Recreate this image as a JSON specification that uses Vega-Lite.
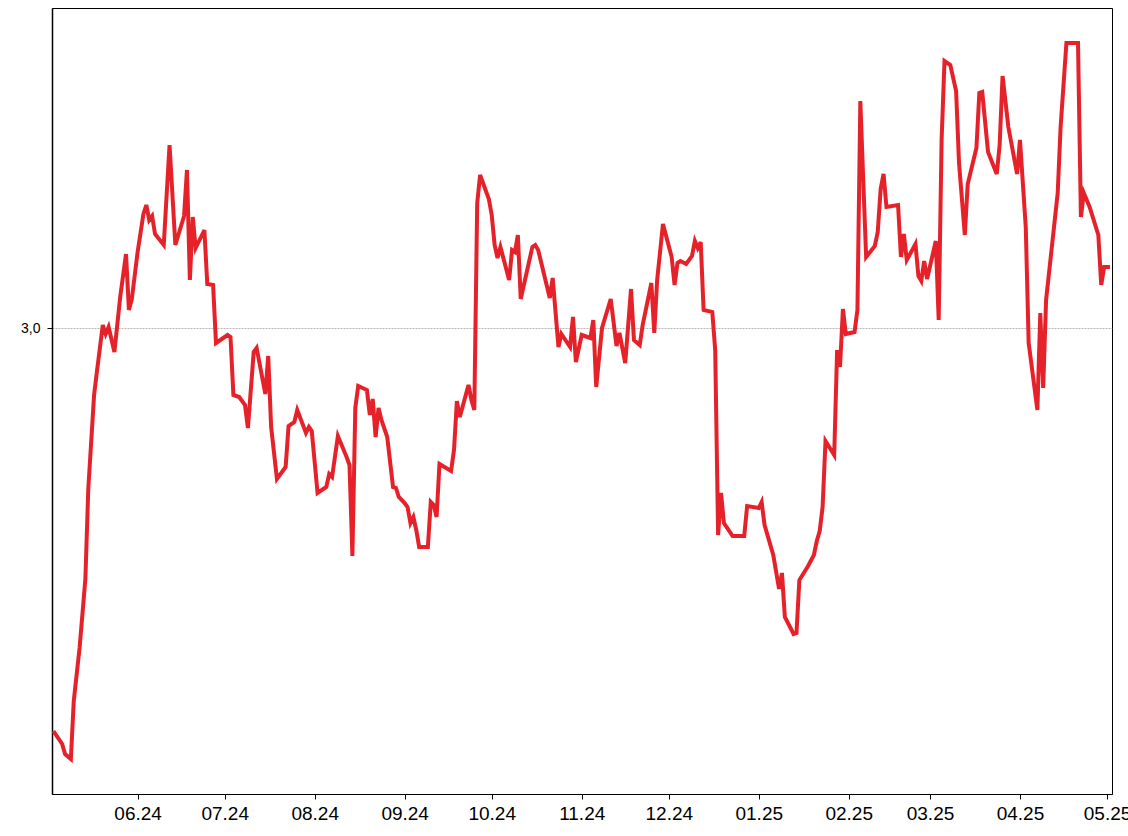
{
  "$schema": "https://vega.github.io/schema/vega-lite/v6.json",
  "width": 1060,
  "height": 786,
  "autosize": "none",
  "padding": {"left": 52, "top": 8, "right": 16, "bottom": 42},
  "background": "white",
  "config": {"view": {"stroke": "black", "strokeWidth": 1}, "font": "Liberation Sans"},
  "data": {"values": [
    {"date": "2024-05-03", "value": 2.597},
    {"date": "2024-05-06", "value": 2.584},
    {"date": "2024-05-07", "value": 2.574},
    {"date": "2024-05-09", "value": 2.569},
    {"date": "2024-05-10", "value": 2.627},
    {"date": "2024-05-12", "value": 2.680},
    {"date": "2024-05-14", "value": 2.749},
    {"date": "2024-05-15", "value": 2.839},
    {"date": "2024-05-17", "value": 2.933},
    {"date": "2024-05-18", "value": 2.957},
    {"date": "2024-05-20", "value": 3.003},
    {"date": "2024-05-21", "value": 2.994},
    {"date": "2024-05-22", "value": 3.001},
    {"date": "2024-05-24", "value": 2.976},
    {"date": "2024-05-26", "value": 3.031},
    {"date": "2024-05-28", "value": 3.074},
    {"date": "2024-05-29", "value": 3.018},
    {"date": "2024-05-30", "value": 3.029},
    {"date": "2024-06-01", "value": 3.076},
    {"date": "2024-06-03", "value": 3.114},
    {"date": "2024-06-04", "value": 3.123},
    {"date": "2024-06-05", "value": 3.108},
    {"date": "2024-06-06", "value": 3.112},
    {"date": "2024-06-07", "value": 3.094},
    {"date": "2024-06-10", "value": 3.083},
    {"date": "2024-06-12", "value": 3.183},
    {"date": "2024-06-14", "value": 3.083},
    {"date": "2024-06-17", "value": 3.112},
    {"date": "2024-06-18", "value": 3.158},
    {"date": "2024-06-19", "value": 3.048},
    {"date": "2024-06-20", "value": 3.111},
    {"date": "2024-06-21", "value": 3.080},
    {"date": "2024-06-24", "value": 3.098},
    {"date": "2024-06-25", "value": 3.044},
    {"date": "2024-06-27", "value": 3.043},
    {"date": "2024-06-28", "value": 2.985},
    {"date": "2024-07-02", "value": 2.993},
    {"date": "2024-07-03", "value": 2.991},
    {"date": "2024-07-04", "value": 2.933},
    {"date": "2024-07-06", "value": 2.931},
    {"date": "2024-07-08", "value": 2.923},
    {"date": "2024-07-09", "value": 2.900},
    {"date": "2024-07-11", "value": 2.976},
    {"date": "2024-07-12", "value": 2.980},
    {"date": "2024-07-15", "value": 2.934},
    {"date": "2024-07-16", "value": 2.972},
    {"date": "2024-07-17", "value": 2.901},
    {"date": "2024-07-19", "value": 2.849},
    {"date": "2024-07-22", "value": 2.861},
    {"date": "2024-07-23", "value": 2.902},
    {"date": "2024-07-25", "value": 2.906},
    {"date": "2024-07-26", "value": 2.918},
    {"date": "2024-07-29", "value": 2.895},
    {"date": "2024-07-30", "value": 2.901},
    {"date": "2024-07-31", "value": 2.897},
    {"date": "2024-08-02", "value": 2.835},
    {"date": "2024-08-05", "value": 2.841},
    {"date": "2024-08-06", "value": 2.854},
    {"date": "2024-08-07", "value": 2.851},
    {"date": "2024-08-09", "value": 2.892},
    {"date": "2024-08-12", "value": 2.871},
    {"date": "2024-08-13", "value": 2.863},
    {"date": "2024-08-14", "value": 2.772},
    {"date": "2024-08-15", "value": 2.920},
    {"date": "2024-08-16", "value": 2.942},
    {"date": "2024-08-19", "value": 2.938},
    {"date": "2024-08-20", "value": 2.913},
    {"date": "2024-08-21", "value": 2.929},
    {"date": "2024-08-22", "value": 2.891},
    {"date": "2024-08-23", "value": 2.920},
    {"date": "2024-08-24", "value": 2.908},
    {"date": "2024-08-26", "value": 2.891},
    {"date": "2024-08-28", "value": 2.841},
    {"date": "2024-08-29", "value": 2.840},
    {"date": "2024-08-30", "value": 2.831},
    {"date": "2024-09-01", "value": 2.825},
    {"date": "2024-09-02", "value": 2.821},
    {"date": "2024-09-03", "value": 2.805},
    {"date": "2024-09-04", "value": 2.811},
    {"date": "2024-09-05", "value": 2.798},
    {"date": "2024-09-06", "value": 2.781},
    {"date": "2024-09-09", "value": 2.781},
    {"date": "2024-09-10", "value": 2.826},
    {"date": "2024-09-11", "value": 2.823},
    {"date": "2024-09-12", "value": 2.811},
    {"date": "2024-09-13", "value": 2.864},
    {"date": "2024-09-17", "value": 2.857},
    {"date": "2024-09-18", "value": 2.878},
    {"date": "2024-09-19", "value": 2.927},
    {"date": "2024-09-20", "value": 2.911},
    {"date": "2024-09-23", "value": 2.943},
    {"date": "2024-09-24", "value": 2.928},
    {"date": "2024-09-25", "value": 2.918},
    {"date": "2024-09-26", "value": 3.125},
    {"date": "2024-09-27", "value": 3.153},
    {"date": "2024-09-30", "value": 3.129},
    {"date": "2024-10-01", "value": 3.113},
    {"date": "2024-10-02", "value": 3.083},
    {"date": "2024-10-03", "value": 3.070},
    {"date": "2024-10-04", "value": 3.081},
    {"date": "2024-10-07", "value": 3.048},
    {"date": "2024-10-08", "value": 3.078},
    {"date": "2024-10-09", "value": 3.076},
    {"date": "2024-10-10", "value": 3.093},
    {"date": "2024-10-11", "value": 3.029},
    {"date": "2024-10-15", "value": 3.081},
    {"date": "2024-10-16", "value": 3.083},
    {"date": "2024-10-17", "value": 3.078},
    {"date": "2024-10-21", "value": 3.030},
    {"date": "2024-10-22", "value": 3.050},
    {"date": "2024-10-24", "value": 2.981},
    {"date": "2024-10-25", "value": 2.994},
    {"date": "2024-10-28", "value": 2.981},
    {"date": "2024-10-29", "value": 3.011},
    {"date": "2024-10-30", "value": 2.966},
    {"date": "2024-11-01", "value": 2.993},
    {"date": "2024-11-04", "value": 2.990},
    {"date": "2024-11-05", "value": 3.008},
    {"date": "2024-11-06", "value": 2.941},
    {"date": "2024-11-08", "value": 3.000},
    {"date": "2024-11-11", "value": 3.029},
    {"date": "2024-11-13", "value": 2.982},
    {"date": "2024-11-14", "value": 2.995},
    {"date": "2024-11-16", "value": 2.965},
    {"date": "2024-11-18", "value": 3.039},
    {"date": "2024-11-19", "value": 2.988},
    {"date": "2024-11-21", "value": 2.983},
    {"date": "2024-11-22", "value": 3.003},
    {"date": "2024-11-25", "value": 3.045},
    {"date": "2024-11-26", "value": 2.995},
    {"date": "2024-11-27", "value": 3.048},
    {"date": "2024-11-29", "value": 3.104},
    {"date": "2024-12-02", "value": 3.071},
    {"date": "2024-12-03", "value": 3.043},
    {"date": "2024-12-04", "value": 3.065},
    {"date": "2024-12-05", "value": 3.067},
    {"date": "2024-12-07", "value": 3.064},
    {"date": "2024-12-09", "value": 3.072},
    {"date": "2024-12-10", "value": 3.087},
    {"date": "2024-12-11", "value": 3.080},
    {"date": "2024-12-12", "value": 3.086},
    {"date": "2024-12-13", "value": 3.018},
    {"date": "2024-12-16", "value": 3.016},
    {"date": "2024-12-17", "value": 2.978},
    {"date": "2024-12-18", "value": 2.793},
    {"date": "2024-12-19", "value": 2.835},
    {"date": "2024-12-20", "value": 2.805},
    {"date": "2024-12-23", "value": 2.792},
    {"date": "2024-12-27", "value": 2.792},
    {"date": "2024-12-28", "value": 2.822},
    {"date": "2025-01-01", "value": 2.820},
    {"date": "2025-01-02", "value": 2.826},
    {"date": "2025-01-03", "value": 2.803},
    {"date": "2025-01-06", "value": 2.773},
    {"date": "2025-01-08", "value": 2.739},
    {"date": "2025-01-09", "value": 2.755},
    {"date": "2025-01-10", "value": 2.711},
    {"date": "2025-01-13", "value": 2.694},
    {"date": "2025-01-14", "value": 2.695},
    {"date": "2025-01-15", "value": 2.748},
    {"date": "2025-01-18", "value": 2.762},
    {"date": "2025-01-20", "value": 2.773},
    {"date": "2025-01-21", "value": 2.787},
    {"date": "2025-01-22", "value": 2.797},
    {"date": "2025-01-23", "value": 2.821},
    {"date": "2025-01-24", "value": 2.887},
    {"date": "2025-01-27", "value": 2.873},
    {"date": "2025-01-28", "value": 2.978},
    {"date": "2025-01-29", "value": 2.961},
    {"date": "2025-01-30", "value": 3.019},
    {"date": "2025-01-31", "value": 2.994},
    {"date": "2025-02-03", "value": 2.996},
    {"date": "2025-02-04", "value": 3.018},
    {"date": "2025-02-05", "value": 3.227},
    {"date": "2025-02-06", "value": 3.148},
    {"date": "2025-02-07", "value": 3.071},
    {"date": "2025-02-10", "value": 3.082},
    {"date": "2025-02-11", "value": 3.096},
    {"date": "2025-02-12", "value": 3.139},
    {"date": "2025-02-13", "value": 3.154},
    {"date": "2025-02-14", "value": 3.121},
    {"date": "2025-02-18", "value": 3.123},
    {"date": "2025-02-19", "value": 3.071},
    {"date": "2025-02-20", "value": 3.094},
    {"date": "2025-02-21", "value": 3.068},
    {"date": "2025-02-24", "value": 3.084},
    {"date": "2025-02-25", "value": 3.052},
    {"date": "2025-02-26", "value": 3.047},
    {"date": "2025-02-27", "value": 3.067},
    {"date": "2025-02-28", "value": 3.049},
    {"date": "2025-03-03", "value": 3.087},
    {"date": "2025-03-04", "value": 3.008},
    {"date": "2025-03-05", "value": 3.188},
    {"date": "2025-03-06", "value": 3.267},
    {"date": "2025-03-08", "value": 3.263},
    {"date": "2025-03-10", "value": 3.237},
    {"date": "2025-03-11", "value": 3.165},
    {"date": "2025-03-13", "value": 3.093},
    {"date": "2025-03-14", "value": 3.144},
    {"date": "2025-03-17", "value": 3.180},
    {"date": "2025-03-18", "value": 3.235},
    {"date": "2025-03-19", "value": 3.236},
    {"date": "2025-03-21", "value": 3.176},
    {"date": "2025-03-24", "value": 3.154},
    {"date": "2025-03-25", "value": 3.183},
    {"date": "2025-03-26", "value": 3.252},
    {"date": "2025-03-28", "value": 3.201},
    {"date": "2025-03-31", "value": 3.154},
    {"date": "2025-04-01", "value": 3.188},
    {"date": "2025-04-03", "value": 3.101},
    {"date": "2025-04-04", "value": 2.985},
    {"date": "2025-04-07", "value": 2.918},
    {"date": "2025-04-08", "value": 3.015},
    {"date": "2025-04-09", "value": 2.940},
    {"date": "2025-04-10", "value": 3.028},
    {"date": "2025-04-14", "value": 3.135},
    {"date": "2025-04-15", "value": 3.201},
    {"date": "2025-04-17", "value": 3.285},
    {"date": "2025-04-21", "value": 3.285},
    {"date": "2025-04-22", "value": 3.111},
    {"date": "2025-04-23", "value": 3.135},
    {"date": "2025-04-25", "value": 3.121},
    {"date": "2025-04-28", "value": 3.093},
    {"date": "2025-04-29", "value": 3.043},
    {"date": "2025-04-30", "value": 3.061},
    {"date": "2025-05-02", "value": 3.061}
  ]},
  "mark": {"type": "line", "color": "#e5222a", "strokeWidth": 4, "clip": true},
  "encoding": {
    "x": {
      "field": "date",
      "type": "temporal",
      "scale": {
        "type": "utc",
        "domain": [
          {"year": 2024, "month": 5, "date": 2, "hours": 12, "utc": true},
          {"year": 2025, "month": 5, "date": 2, "hours": 17, "utc": true}
        ]
      },
      "axis": {
        "title": null,
        "format": "%m.%y",
        "tickCount": {"interval": "month", "step": 1},
        "grid": false,
        "labelFontSize": 19,
        "labelColor": "black",
        "labelFont": "Liberation Sans",
        "labelPadding": 5,
        "labelFlush": false,
        "labelOverlap": false,
        "tickColor": "black",
        "tickSize": 5,
        "domainColor": "black"
      }
    },
    "y": {
      "field": "value",
      "type": "quantitative",
      "scale": {"domain": [2.534, 3.32], "zero": false, "nice": false},
      "axis": {
        "title": null,
        "values": [3],
        "labelExpr": "replace(format(datum.value, '.1f'), '.', ',')",
        "labelFontSize": 14,
        "labelColor": "black",
        "labelFont": "Liberation Sans",
        "labelPadding": 7,
        "tickColor": "black",
        "tickSize": 5,
        "domainColor": "black",
        "domainWidth": 1.5,
        "grid": true,
        "gridColor": "#888888",
        "gridWidth": 0.6,
        "gridDash": [2, 1]
      }
    }
  }
}
